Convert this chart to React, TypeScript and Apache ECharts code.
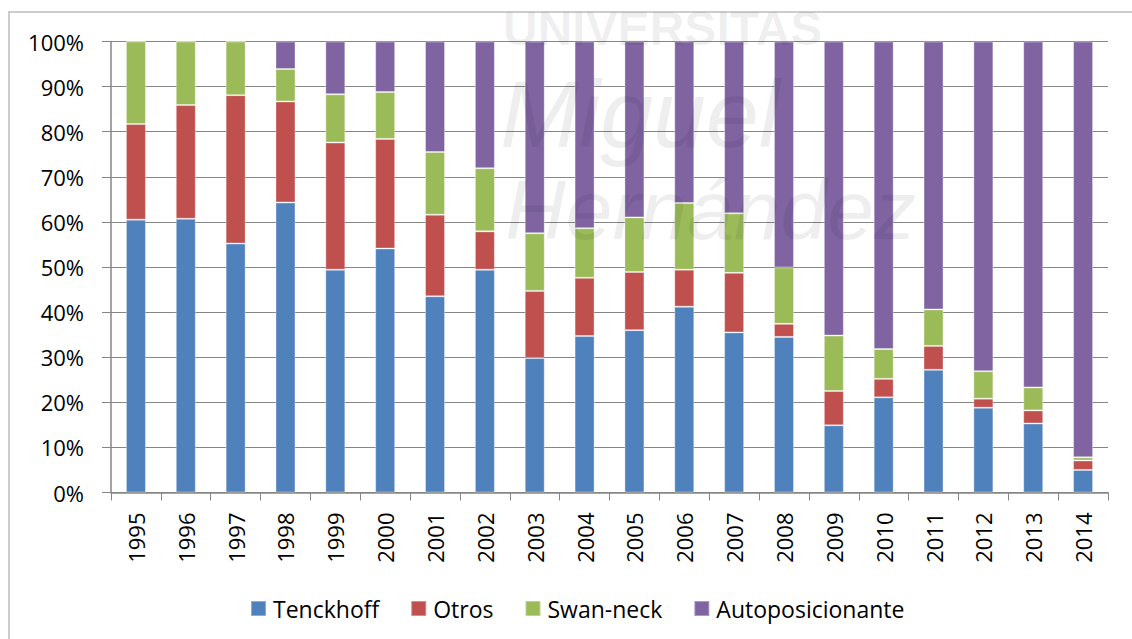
import React, { useEffect, useRef } from "react";
import * as echarts from "echarts";

const years = ["1995","1996","1997","1998","1999","2000","2001","2002","2003","2004","2005","2006","2007","2008","2009","2010","2011","2012","2013","2014"];
const tenckhoff = [60.5,60.7,55.2,64.3,49.4,54.1,43.5,49.4,29.8,34.7,36.0,41.2,35.5,34.5,14.9,21.1,27.2,18.8,15.3,5.0];
const otros = [21.2,25.2,32.9,22.4,28.2,24.3,18.1,8.5,14.9,12.9,12.9,8.2,13.2,2.9,7.6,4.1,5.3,2.0,2.9,2.1];
const swanNeck = [18.3,14.1,11.9,7.2,10.7,10.4,13.9,14.0,12.8,11.0,12.1,14.8,13.2,12.5,12.3,6.6,8.1,6.1,5.1,0.7];
const autoposicionante = [0,0,0,6.1,11.7,11.2,24.5,28.1,42.5,41.4,39.0,35.8,38.1,50.1,65.2,68.2,59.4,73.1,76.7,92.2];
const yTicks = [0,10,20,30,40,50,60,70,80,90,100];

const seriesDefs = [
  { name: "Tenckhoff", data: tenckhoff, color: "#4F81BD" },
  { name: "Otros", data: otros, color: "#C0504D" },
  { name: "Swan-neck", data: swanNeck, color: "#9BBB59" },
  { name: "Autoposicionante", data: autoposicionante, color: "#8064A2" },
];

const FONT = "'Open Sans', 'Noto Sans', sans-serif";
const WM = "rgba(0,0,0,0.065)";

export default function App() {
  const ref = useRef<HTMLDivElement>(null);
  useEffect(() => {
    if (!ref.current) return;
    const chart = echarts.init(ref.current, null, { renderer: "svg" });
    chart.setOption({
      animation: false,
      backgroundColor: "#ffffff",
      grid: { left: 111, right: 24, top: 41.5, bottom: 146.5, containLabel: false },
      legend: {
        left: 250,
        top: 597,
        padding: 0,
        itemWidth: 15,
        itemHeight: 15,
        itemGap: 31,
        icon: "rect",
        textStyle: { fontFamily: FONT, fontSize: 23, color: "#000", padding: [0, 0, 0, 2] },
        data: seriesDefs.map((s) => s.name),
      },
      xAxis: {
        type: "category",
        data: years,
        axisLine: { lineStyle: { color: "#868686", width: 1.5 } },
        axisTick: { show: true, length: 8, alignWithLabel: false, lineStyle: { color: "#868686" } },
        axisLabel: {
          rotate: 90,
          margin: 20,
          fontFamily: FONT,
          fontSize: 22,
          color: "#000",
        },
      },
      yAxis: {
        type: "value",
        min: yTicks[0],
        max: yTicks[yTicks.length - 1],
        interval: 10,
        axisLine: { show: true, lineStyle: { color: "#868686", width: 1.5 } },
        axisTick: { show: true, length: 9, lineStyle: { color: "#868686" } },
        splitLine: { lineStyle: { color: "#868686", width: 1.2 } },
        axisLabel: {
          formatter: "{value}%",
          margin: 27,
          fontFamily: FONT,
          fontSize: 22,
          color: "#000",
        },
      },
      series: seriesDefs.map((s) => ({
        name: s.name,
        type: "bar",
        stack: "total",
        barWidth: 20,
        data: s.data,
        itemStyle: { color: s.color, borderColor: "rgba(255,255,255,0.35)", borderWidth: 1 },
      })),
      graphic: [
        {
          type: "rect",
          silent: true,
          shape: { x: 9, y: 12, width: 1140, height: 640 },
          style: { fill: "none", stroke: "#bdbdbd", lineWidth: 1.5 },
          z: 100,
        },
        {
          type: "text",
          silent: true,
          left: 503,
          top: 4,
          style: { text: "UNIVERSITAS", fontSize: 48, lineHeight: 48, fontWeight: "bold", fontFamily: "'Liberation Sans', sans-serif", fill: WM },
          z: 100,
        },
        {
          type: "text",
          silent: true,
          left: 500,
          top: 66,
          style: { text: "Miguel", fontSize: 95, lineHeight: 95, fontStyle: "italic", fontFamily: "'Liberation Sans', sans-serif", fill: WM },
          z: 100,
        },
        {
          type: "text",
          silent: true,
          left: 505,
          top: 168,
          style: { text: "Hernández", fontSize: 84, lineHeight: 84, fontStyle: "italic", fontFamily: "'Liberation Sans', sans-serif", fill: WM },
          z: 100,
        },
      ],
    });
    return () => chart.dispose();
  }, []);
  return (
    <div
      ref={ref}
      style={{ position: "fixed", left: 0, top: 0, width: 1132, height: 639, background: "#fff" }}
    />
  );
}
